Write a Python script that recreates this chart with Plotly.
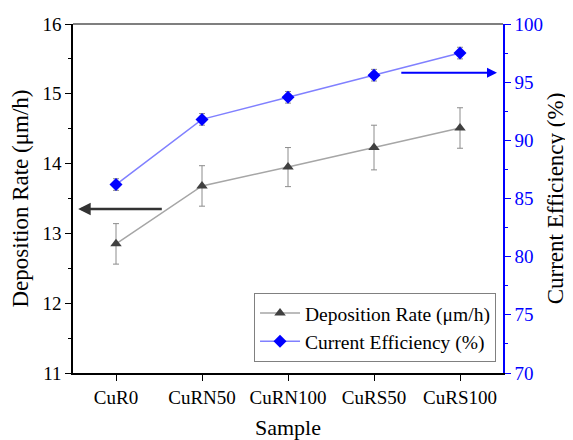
import plotly.graph_objects as go

samples = ["CuR0", "CuRN50", "CuRN100", "CuRS50", "CuRS100"]
dep_rate = [12.85, 13.68, 13.95, 14.23, 14.51]
dep_err = [0.29, 0.29, 0.28, 0.32, 0.29]
cur_eff = [86.2, 91.8, 93.7, 95.6, 97.5]
cur_err = [0.5, 0.5, 0.5, 0.5, 0.5]

FONT = "Liberation Serif"
BLUE = "#0000ff"

fig = go.Figure()
fig.add_trace(go.Scatter(
    x=samples, y=dep_rate, name="Deposition Rate (μm/h)", mode="lines+markers",
    line=dict(color="#a6a6a6", width=1.5),
    marker=dict(symbol="triangle-up", size=10, color="#404040"),
    error_y=dict(type="data", array=dep_err, color="#8c8c8c", thickness=1, width=3),
))
fig.add_trace(go.Scatter(
    x=samples, y=cur_eff, name="Current Efficiency (%)", mode="lines+markers", yaxis="y2",
    line=dict(color="#8080ff", width=1.5),
    marker=dict(symbol="diamond", size=10, color=BLUE),
    error_y=dict(type="data", array=cur_err, color="#8c8c8c", thickness=1, width=3),
))

fig.update_layout(
    width=565, height=432,
    margin=dict(l=65, r=70, t=16, b=67, autoexpand=False),
    paper_bgcolor="white", plot_bgcolor="white",
    font=dict(family=FONT, size=19, color="black"),
    showlegend=True,
    legend=dict(x=0.421, y=0.032, xanchor="left", yanchor="bottom",
                bordercolor="#808080", borderwidth=1, bgcolor="white",
                font=dict(family=FONT, size=19.5), tracegroupgap=0,
                itemwidth=40),
    xaxis=dict(range=[-0.5, 4.5], showline=True, linecolor="black", linewidth=1.5,
               ticks="outside", ticklen=6, tickcolor="black", showgrid=False,
               title=dict(text="Sample", font=dict(family=FONT, size=22), standoff=18),
               tickfont=dict(family=FONT, size=19)),
    yaxis=dict(range=[11, 16], dtick=1, showline=True, linecolor="black", linewidth=1.5,
               ticks="outside", ticklen=6, tickcolor="black", showgrid=False,
               minor=dict(dtick=0.5, ticks="outside", ticklen=3, tickcolor="black"),
               title=dict(text="Deposition Rate (μm/h)", font=dict(family=FONT, size=23), standoff=8),
               tickfont=dict(family=FONT, size=19), zeroline=False),
    yaxis2=dict(range=[70, 100], dtick=5, overlaying="y", side="right",
                showline=True, linecolor=BLUE, linewidth=1.5,
                ticks="outside", ticklen=6, tickcolor=BLUE, showgrid=False,
                minor=dict(dtick=2.5, ticks="outside", ticklen=3, tickcolor=BLUE),
                tickfont=dict(family=FONT, size=19, color=BLUE),
                title=dict(text="Current Efficiency (%)", font=dict(family=FONT, size=23, color="black"), standoff=5),
                zeroline=False),
)

# top frame line
fig.add_shape(type="line", xref="paper", yref="paper", x0=0, x1=1, y0=1, y1=1,
              line=dict(color="#555555", width=1.5))

# arrows
fig.add_annotation(x=-0.44, y=13.35, ax=0.55, ay=13.35, xref="x", yref="y",
                   axref="x", ayref="y", showarrow=True, arrowhead=2, arrowsize=1,
                   arrowwidth=2.5, arrowcolor="#333333", text="")
fig.add_annotation(x=4.43, y=95.8, ax=3.3, ay=95.8, xref="x", yref="y2",
                   axref="x", ayref="y2", showarrow=True, arrowhead=2, arrowsize=1,
                   arrowwidth=2, arrowcolor=BLUE, text="")

fig.write_html("out.html")
